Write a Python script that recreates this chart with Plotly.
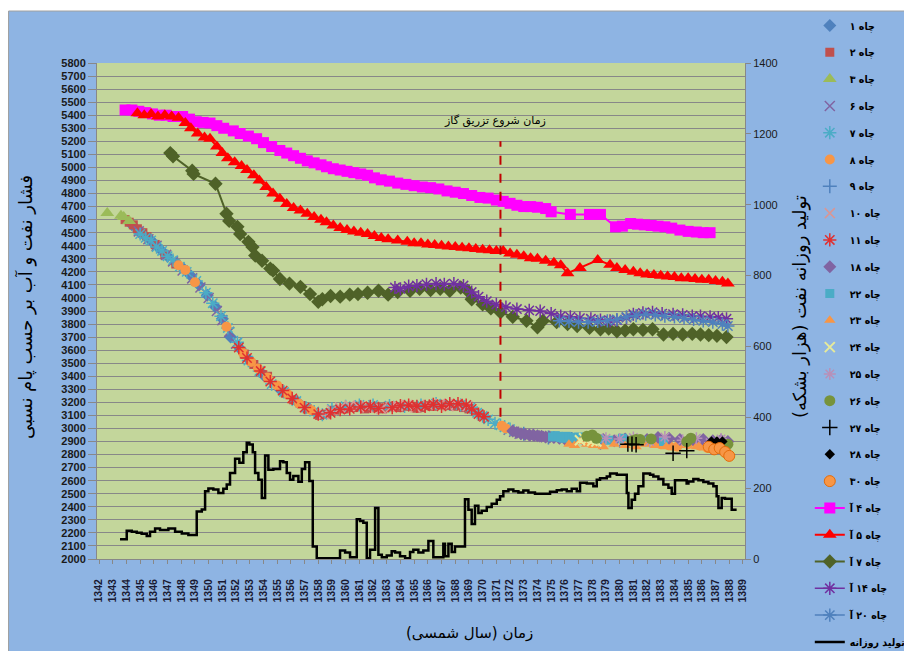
import plotly.graph_objects as go

# ---------------- DATA ----------------
years_tick = list(range(1342, 1390))
tick_labels = [str(y) for y in years_tick]

# Line wells (pressure, left axis)
w4a_x = [1343.9, 1344.4, 1344.9, 1345.4, 1345.9, 1346.4, 1346.9, 1347.4, 1348.1, 1348.6, 1349.1, 1349.6,
         1350.1, 1350.6, 1351.1, 1351.8, 1352.3, 1352.9, 1353.5, 1354.0, 1354.6, 1355.2, 1355.7, 1356.2,
         1356.7, 1357.2, 1357.7, 1358.2, 1358.6, 1359.1, 1359.6, 1360.1, 1360.6, 1361.1, 1361.6, 1362.1,
         1362.6, 1363.2, 1363.8, 1364.4, 1365.0, 1365.6, 1366.2, 1366.8, 1367.4, 1368.0, 1368.6, 1369.2,
         1369.8, 1370.4, 1371.0, 1371.5, 1372.0, 1372.5, 1373.0, 1373.5, 1374.0, 1374.6, 1375.0, 1376.4,
         1377.8, 1378.6, 1379.7, 1380.2, 1380.8, 1381.3, 1381.8, 1382.3, 1382.8, 1383.3, 1383.8, 1384.4,
         1385.0, 1385.6, 1386.1, 1386.6]
w4a_y = [5440, 5440, 5430, 5420, 5410, 5400, 5400, 5390, 5390, 5370, 5350, 5345,
         5340, 5320, 5300, 5280, 5260, 5240, 5220, 5190, 5160, 5130, 5110, 5090,
         5070, 5050, 5035, 5020, 5005, 4990, 4980, 4970, 4960, 4950, 4940, 4920,
         4905, 4895, 4880, 4870, 4860, 4850, 4845, 4835, 4820, 4810, 4800, 4785,
         4770, 4765, 4750, 4740, 4725, 4710, 4700, 4700, 4695, 4685, 4660, 4640,
         4640, 4640, 4545, 4550, 4570, 4565, 4560, 4555, 4550, 4545, 4535, 4520,
         4510, 4505, 4500, 4500]

w5a_x = [1344.8, 1345.3, 1345.8, 1346.3, 1346.8, 1347.3, 1347.8, 1348.3, 1348.7, 1349.2, 1349.7, 1350.1,
         1350.6, 1351.0, 1351.4, 1351.9, 1352.4, 1352.8, 1353.3, 1353.7, 1354.2, 1354.7, 1355.2, 1355.7,
         1356.2, 1356.7, 1357.2, 1357.7, 1358.2, 1358.6, 1359.1, 1359.6, 1360.1, 1360.6, 1361.1, 1361.6,
         1362.1, 1362.6, 1363.1, 1363.8, 1364.5, 1365.0, 1365.5, 1366.0, 1366.5, 1367.0, 1367.5, 1368.0,
         1368.5, 1369.0, 1369.5, 1370.0, 1370.5, 1371.0, 1371.5, 1372.0, 1372.5, 1373.0, 1373.5, 1374.0,
         1374.6, 1375.2, 1375.7, 1376.2, 1377.1, 1378.4, 1379.3, 1379.8, 1380.4, 1381.0, 1381.5, 1382.0,
         1382.5, 1383.0, 1383.5, 1384.0, 1384.5, 1385.0, 1385.5, 1386.0, 1386.5, 1387.0, 1387.5, 1387.9]
w5a_y = [5415, 5400, 5410, 5390, 5400, 5390, 5380, 5340, 5300, 5260, 5230, 5220,
         5160, 5110, 5070, 5040, 5010, 4980, 4940, 4900, 4850, 4800, 4760, 4720,
         4690, 4670, 4645, 4620, 4600, 4580, 4555, 4535, 4520, 4510, 4500, 4490,
         4475, 4460, 4450, 4440, 4430, 4420, 4420, 4410, 4405, 4400, 4395, 4390,
         4385, 4380, 4375, 4370, 4365, 4360, 4360, 4340, 4330, 4320, 4305, 4300,
         4285, 4270, 4250, 4190, 4230, 4290, 4255, 4230, 4215, 4200, 4190, 4180,
         4175, 4170, 4165, 4160, 4150, 4150, 4145, 4140, 4140, 4130, 4125, 4110]

w7a_x = [1347.2, 1347.4, 1348.8, 1348.9, 1350.5, 1351.3, 1351.5, 1352.1, 1352.3, 1352.9, 1353.2, 1353.4,
         1353.9, 1354.5, 1354.7, 1355.2, 1355.9, 1356.7, 1357.4, 1358.0, 1358.3, 1358.9, 1359.6, 1360.3,
         1360.9, 1361.6, 1362.4, 1363.1, 1363.8, 1364.7, 1365.4, 1366.2, 1366.9, 1367.6, 1368.4, 1368.9,
         1369.2, 1370.0, 1370.6, 1371.3, 1372.2, 1373.2, 1374.0, 1374.4, 1375.4, 1376.2, 1376.9, 1377.8,
         1378.6, 1379.2, 1379.8, 1380.4, 1381.0, 1381.7, 1382.4, 1383.2, 1383.9, 1384.6, 1385.3, 1385.9,
         1386.5, 1387.1, 1387.8]
w7a_y = [5110, 5085, 4975, 4950, 4875, 4645, 4590, 4545, 4490, 4430, 4390, 4325,
         4285, 4225, 4210, 4145, 4110, 4085, 4030, 3970, 3990, 4015, 4010, 4025,
         4030, 4040, 4055, 4025, 4045, 4055, 4070, 4060, 4070, 4055, 4080, 4055,
         3990, 3950, 3920, 3890, 3855, 3825, 3775, 3825, 3815, 3800, 3785, 3770,
         3760, 3765, 3745, 3750, 3760, 3755, 3760, 3720, 3725, 3720, 3725, 3720,
         3715, 3710, 3700]

w14a_x = [1363.6, 1364.0, 1364.6, 1365.2, 1365.9, 1366.6, 1367.2, 1367.9, 1368.6, 1369.2, 1369.7, 1370.3,
          1371.0, 1371.7, 1372.5, 1373.4, 1374.2, 1375.0, 1375.7, 1376.4, 1377.1, 1377.9, 1378.6, 1379.3,
          1379.8, 1380.5, 1381.0, 1381.7, 1382.4, 1383.1, 1383.9, 1384.6, 1385.3, 1385.9, 1386.6, 1387.2,
          1387.8]
w14a_y = [4080, 4070, 4090, 4095, 4105, 4110, 4105, 4110, 4095, 4045, 4010, 3975,
          3950, 3930, 3915, 3905, 3900, 3880, 3860, 3855, 3845, 3840, 3830, 3825,
          3830, 3850, 3875, 3885, 3890, 3880, 3875, 3870, 3860, 3860, 3855, 3850,
          3840]

w20a_x = [1375.6, 1376.3, 1377.0, 1377.7, 1378.4, 1379.1, 1379.8, 1380.5, 1381.2, 1381.9, 1382.6, 1383.3,
          1384.0, 1384.7, 1385.4, 1386.1, 1386.8, 1387.5, 1387.9]
w20a_y = [3825, 3820, 3815, 3815, 3820, 3825, 3835, 3855, 3865, 3875, 3870, 3860,
          3855, 3845, 3835, 3825, 3815, 3800, 3785]

# Scatter wells (pressure, left axis)
w1_x = [1344.4, 1344.9, 1345.3, 1345.7, 1346.0, 1346.5, 1347.0, 1347.6, 1348.2, 1348.7, 1349.3, 1349.9,
        1350.5, 1351.0, 1351.6, 1352.3, 1353.0, 1354.0, 1355.2, 1356.5]
w1_y = [4560, 4510, 4480, 4450, 4420, 4370, 4320, 4270, 4220, 4170, 4100, 4020,
        3930, 3840, 3700, 3610, 3520, 3410, 3300, 3200]
w2_x = [1343.9, 1344.2, 1344.5, 1344.8, 1345.2, 1345.5, 1346.1, 1346.8, 1347.6, 1352.6, 1353.3, 1354.3,
        1355.6, 1356.2, 1357.2, 1358.1, 1358.6, 1359.2, 1359.9, 1360.6, 1361.0, 1361.4, 1361.9, 1362.3,
        1362.7, 1363.1, 1363.6, 1364.0, 1364.4, 1364.8, 1365.2, 1365.5, 1365.9, 1366.3, 1366.7, 1367.1,
        1367.5, 1367.9, 1368.3, 1368.6, 1369.0]
w2_y = [4600, 4580, 4560, 4530, 4500, 4470, 4410, 4330, 4260, 3570, 3490, 3400,
        3270, 3220, 3150, 3100, 3110, 3140, 3150, 3160, 3170, 3150, 3160, 3160,
        3150, 3170, 3165, 3160, 3170, 3170, 3155, 3160, 3175, 3170, 3185, 3180,
        3175, 3170, 3180, 3160, 3150]
w3_x = [1342.6, 1343.6, 1343.8, 1344.2]
w3_y = [4650, 4630, 4620, 4590]
w6_x = [1344.9, 1345.6, 1346.2, 1346.9, 1347.4, 1348.1, 1348.8, 1349.4, 1350.0, 1350.6, 1351.0, 1351.5,
        1352.0, 1371.9, 1372.3, 1372.7, 1373.1, 1373.4, 1373.8, 1374.1, 1374.5, 1374.9]
w6_y = [4510, 4450, 4400, 4330, 4280, 4210, 4150, 4080, 4000, 3900, 3830, 3740,
        3650, 2990, 2975, 2960, 2955, 2950, 2945, 2940, 2935, 2930]
w7_x = [1345.0, 1345.4, 1345.8, 1346.2, 1346.6, 1347.0, 1347.4, 1347.9, 1348.4, 1349.1, 1349.8, 1350.3,
        1350.9, 1351.4, 1352.1, 1352.9, 1353.7, 1354.6, 1355.5, 1356.4, 1357.1, 1357.7, 1358.3, 1359.0,
        1360.0, 1361.0, 1362.0, 1363.2, 1364.3, 1365.5, 1366.6, 1367.6, 1368.4, 1369.1, 1369.6, 1370.0,
        1370.4, 1370.9, 1371.3, 1371.6, 1372.0]
w7_y = [4490, 4460, 4440, 4390, 4360, 4320, 4290, 4240, 4200, 4130, 4040, 3960,
        3860, 3770, 3660, 3520, 3440, 3340, 3280, 3210, 3160, 3130, 3105, 3150,
        3170, 3180, 3180, 3175, 3170, 3180, 3190, 3185, 3180, 3160, 3120, 3095,
        3070, 3040, 3025, 3010, 2995]
w8_x = [1347.8, 1348.3, 1349.0, 1351.3, 1352.5, 1353.1, 1353.6, 1354.3, 1355.0, 1355.8, 1356.6, 1357.5,
        1371.4, 1371.7, 1383.0, 1383.6, 1384.2, 1385.0, 1385.8, 1386.4, 1387.1]
w8_y = [4250, 4215, 4120, 3780, 3580, 3510, 3460, 3390, 3330, 3260, 3190, 3140,
        3020, 3000, 2880, 2870, 2860, 2880, 2870, 2850, 2870]
w9_x = [1373.0, 1374.8, 1376.5, 1378.6, 1380.0]
w9_y = [2960, 2930, 2920, 2890, 2905]
w10_x = [1358.4, 1359.0, 1359.6, 1360.3, 1360.9, 1361.6, 1362.6, 1363.3, 1363.8, 1364.5, 1365.1, 1366.0,
         1366.9, 1367.5, 1368.1, 1368.9]
w10_y = [3110, 3140, 3160, 3175, 3170, 3160, 3150, 3165, 3170, 3180, 3160, 3180,
         3190, 3170, 3185, 3170]
w11_x = [1352.2, 1352.8, 1353.8, 1354.5, 1355.4, 1356.1, 1357.0, 1358.0, 1358.9, 1359.6, 1360.3, 1361.1,
         1361.8, 1362.4, 1363.4, 1364.0, 1364.6, 1365.2, 1365.8, 1366.4, 1367.0, 1367.6, 1368.2, 1368.8,
         1369.2, 1369.7, 1370.1]
w11_y = [3620, 3540, 3440, 3360, 3290, 3230, 3160, 3110, 3120, 3145, 3150, 3165,
         3170, 3155, 3160, 3175, 3180, 3170, 3170, 3185, 3170, 3190, 3190, 3180,
         3150, 3110, 3090]
w18_x = [1372.2, 1372.5, 1372.8, 1373.1, 1373.4, 1373.7, 1374.0, 1374.3, 1374.6, 1374.9, 1375.2, 1375.6,
         1376.0, 1376.7, 1377.4, 1378.1, 1378.8, 1379.6, 1380.4, 1381.2, 1382.0, 1382.8, 1383.6, 1384.4,
         1385.4, 1386.1, 1386.8, 1387.4, 1387.9]
w18_y = [2980, 2970, 2960, 2955, 2950, 2950, 2945, 2940, 2935, 2935, 2930, 2925,
         2920, 2915, 2910, 2925, 2915, 2905, 2920, 2910, 2915, 2930, 2925, 2915,
         2910, 2915, 2905, 2910, 2900]
w22_x = [1375.1, 1375.3, 1375.5, 1375.7, 1375.9, 1376.1, 1376.3, 1376.5, 1376.7, 1377.0, 1378.5, 1379.2,
         1380.2, 1381.8, 1383.2]
w22_y = [2935, 2945, 2940, 2930, 2925, 2940, 2935, 2925, 2930, 2935, 2920, 2910,
         2925, 2905, 2900]
w23_x = [1376.3, 1376.7, 1377.1, 1377.6, 1378.1, 1378.8, 1379.6, 1380.4, 1381.2, 1381.9, 1382.6, 1383.4,
         1384.1, 1384.8, 1385.6, 1386.2]
w23_y = [2880, 2870, 2900, 2880, 2870, 2860, 2880, 2870, 2860, 2880, 2870, 2860,
         2850, 2870, 2860, 2850]
w24_x = [1377.1, 1377.4, 1377.7, 1378.0, 1378.3]
w24_y = [2910, 2925, 2920, 2905, 2900]
w25_x = [1379.0, 1380.0, 1381.0, 1382.2, 1383.3, 1384.6, 1385.6, 1386.6, 1387.4]
w25_y = [2925, 2920, 2930, 2900, 2935, 2910, 2925, 2890, 2920]
w26_x = [1377.6, 1378.0, 1378.3, 1380.9, 1381.2, 1381.5, 1382.3, 1384.9, 1385.2, 1387.9]
w26_y = [2940, 2950, 2925, 2905, 2915, 2915, 2920, 2900, 2925, 2880]
w27_x = [1380.6, 1380.9, 1381.2, 1383.9, 1384.9]
w27_y = [2880, 2880, 2875, 2810, 2830]
w28_x = [1386.7, 1387.1, 1387.5]
w28_y = [2900, 2900, 2900]
w30_x = [1386.5, 1386.9, 1387.3, 1387.7, 1388.0]
w30_y = [2860, 2840, 2850, 2820, 2790]

# Daily production (thousand barrels, right axis) - step series
prod_x = [1343.53, 1344.02, 1344.39, 1344.75, 1345.11, 1345.48, 1345.72, 1346.09, 1346.45, 1347.06, 1347.55,
          1348.04, 1348.52, 1349.13, 1349.50, 1349.74, 1349.98, 1350.34, 1350.71, 1351.07, 1351.32, 1351.56,
          1351.93, 1352.24, 1352.53, 1352.78, 1352.97, 1353.22, 1353.39, 1353.63, 1353.88, 1354.12, 1354.36,
          1354.72, 1355.21, 1355.45, 1355.70, 1355.94, 1356.18, 1356.55, 1356.80, 1357.04, 1357.35, 1357.60,
          1357.89, 1359.59, 1359.96, 1360.32, 1360.81, 1361.05, 1361.29, 1361.54, 1361.78, 1362.15, 1362.39,
          1362.64, 1363.00, 1363.36, 1363.61, 1363.97, 1364.34, 1364.70, 1364.94, 1365.31, 1365.67, 1366.04,
          1366.40, 1367.13, 1367.25, 1367.50, 1367.74, 1367.98, 1368.71, 1368.96, 1369.20, 1369.44, 1369.69,
          1369.93, 1370.30, 1370.66, 1371.03, 1371.27, 1371.51, 1371.88, 1372.24, 1372.61, 1372.97, 1373.34,
          1373.82, 1374.92, 1375.41, 1375.77, 1376.14, 1376.50, 1376.87, 1377.11, 1377.60, 1378.08, 1378.33,
          1378.57, 1379.06, 1379.30, 1379.79, 1380.52, 1380.64, 1380.88, 1381.12, 1381.37, 1381.73, 1382.22,
          1382.46, 1382.83, 1383.19, 1383.56, 1383.80, 1384.04, 1384.89, 1385.02, 1385.38, 1385.75, 1386.11,
          1386.48, 1386.84, 1387.08, 1387.21, 1387.45, 1387.69, 1388.18, 1388.54]
prod_y = [56, 80, 77, 74, 71, 65, 77, 86, 82, 86, 77,
          72, 68, 134, 140, 191, 199, 196, 186, 198, 210, 243,
          283, 272, 301, 328, 323, 301, 243, 224, 172, 292, 252,
          254, 276, 273, 243, 224, 234, 218, 254, 273, 220, 35,
          2, 24, 18, 5, 112, 107, 102, 2, 26, 144, 12,
          5, 10, 22, 18, 8, 2, 20, 26, 18, 24, 51,
          5, 43, 8, 43, 20, 35, 169, 139, 99, 150, 130,
          136, 147, 156, 167, 177, 191, 196, 191, 188, 193, 188,
          184, 190, 194, 196, 191, 198, 191, 215, 213, 205, 224,
          228, 233, 241, 238, 186, 144, 167, 184, 205, 241, 238,
          233, 226, 210, 201, 184, 222, 213, 219, 226, 222, 217,
          213, 205, 177, 144, 172, 170, 139, 139]

# Labels
scatter_names = ["چاه ۱", "چاه ۲", "چاه ۳", "چاه ۶", "چاه ۷", "چاه ۸", "چاه ۹", "چاه ۱۰", "چاه ۱۱",
                 "چاه ۱۸", "چاه ۲۲", "چاه ۲۳", "چاه ۲۴", "چاه ۲۵", "چاه ۲۶", "چاه ۲۷", "چاه ۲۸", "چاه ۳۰"]
line_names = ["چاه ۴ آ", "چاه ۵ آ", "چاه ۷ آ", "چاه ۱۴ آ", "چاه ۲۰ آ"]
prod_name = "تولید روزانه"
title_left = "فشار نفت و آب بر حسب پام نسبی"
title_right = "تولید روزانه نفت (هزار بشکه)"
title_x = "زمان (سال شمسی)"
gas_label = "زمان شروع تزریق گاز"
gas_year = 1371.3
gas_range = [3090, 5200]

# ---------------- STYLE ----------------
FONT = "DejaVu Sans"
scatter_data = [(w1_x, w1_y), (w2_x, w2_y), (w3_x, w3_y), (w6_x, w6_y), (w7_x, w7_y), (w8_x, w8_y),
                (w9_x, w9_y), (w10_x, w10_y), (w11_x, w11_y), (w18_x, w18_y), (w22_x, w22_y),
                (w23_x, w23_y), (w24_x, w24_y), (w25_x, w25_y), (w26_x, w26_y), (w27_x, w27_y),
                (w28_x, w28_y), (w30_x, w30_y)]
scatter_styles = [
    dict(symbol="diamond", color="#4F81BD", size=10),
    dict(symbol="square", color="#C0504D", size=9),
    dict(symbol="triangle-up", color="#9BBB59", size=12),
    dict(symbol="x-thin-open", color="#8064A2", size=10, line=dict(color="#9A8AB8", width=1.5)),
    dict(symbol="asterisk-open", color="#4BACC6", size=11, line=dict(color="#4BACC6", width=1.5)),
    dict(symbol="circle", color="#F79646", size=10),
    dict(symbol="cross-thin-open", color="#4F81BD", size=10, line=dict(color="#4F81BD", width=1.5)),
    dict(symbol="x-thin-open", color="#D99694", size=10, line=dict(color="#D99694", width=1.5)),
    dict(symbol="asterisk-open", color="#E03030", size=11, line=dict(color="#E03030", width=1.5)),
    dict(symbol="diamond", color="#8064A2", size=10),
    dict(symbol="square", color="#4BACC6", size=9),
    dict(symbol="triangle-up", color="#F79646", size=10),
    dict(symbol="x-thin-open", color="#E6EA9A", size=10, line=dict(color="#E6EA9A", width=2)),
    dict(symbol="asterisk-open", color="#B890B8", size=10, line=dict(color="#B890B8", width=1.5)),
    dict(symbol="circle", color="#77933C", size=11),
    dict(symbol="cross-thin-open", color="black", size=11, line=dict(color="black", width=1.5)),
    dict(symbol="diamond", color="black", size=8),
    dict(symbol="circle", color="#F79646", size=11, line=dict(color="#E46C0A", width=1)),
]
line_data = [(w4a_x, w4a_y), (w5a_x, w5a_y), (w7a_x, w7a_y), (w14a_x, w14a_y), (w20a_x, w20a_y)]
line_styles = [
    dict(color="#FF00FF", marker=dict(symbol="square", size=11, color="#FF00FF"), width=2),
    dict(color="#FF0000", marker=dict(symbol="triangle-up", size=12, color="#FF0000"), width=2),
    dict(color="#4F6228", marker=dict(symbol="diamond", size=11, color="#4F6228"), width=2),
    dict(color="#7030A0", marker=dict(symbol="asterisk-open", size=11, color="#7030A0",
                                      line=dict(color="#9966CC", width=1.5)), width=1.5),
    dict(color="#4F81BD", marker=dict(symbol="asterisk-open", size=11, color="#4F81BD",
                                      line=dict(color="#6F9AD0", width=1.5)), width=1.5),
]

fig = go.Figure()
for i, ((xs, ys), st, nm) in enumerate(zip(scatter_data, scatter_styles, scatter_names)):
    fig.add_trace(go.Scatter(x=xs, y=ys, mode="markers", name=nm, marker=st,
                             legendgroup="g%d" % i))
for j, ((xs, ys), st, nm) in enumerate(zip(line_data, line_styles, line_names)):
    fig.add_trace(go.Scatter(x=xs, y=ys, mode="lines+markers", name=nm,
                             line=dict(color=st["color"], width=st["width"]), marker=st["marker"],
                             legendgroup="l%d" % j))
fig.add_trace(go.Scatter(x=prod_x, y=prod_y, mode="lines", name=prod_name, yaxis="y2",
                         line=dict(color="black", width=2.5, shape="hv"), legendgroup="p"))

GRID = "#888888"
# The page body has an 8px margin, so the figure is sized 904x643 and shifted accordingly.
fig.update_layout(
    width=904, height=643,
    margin=dict(l=89, r=167, t=55, b=92, autoexpand=False),
    paper_bgcolor="#8EB4E3", plot_bgcolor="#C3D69B",
    showlegend=True,
    xaxis=dict(range=[1341.85, 1389.15], tickmode="array", tickvals=years_tick, ticktext=tick_labels,
               tickangle=-90, tickfont=dict(family="Liberation Sans", size=10.5, color="#1a1a33", weight="bold"),
               ticks="outside", ticklen=4, tickcolor=GRID, showline=True, linecolor=GRID,
               showgrid=False, zeroline=False, ticklabelstandoff=11),
    yaxis=dict(range=[2000, 5800], dtick=100, tickfont=dict(family="Liberation Sans", size=11,
               color="#1a1a1a", weight="bold"), ticks="outside", ticklen=8, tickcolor=GRID,
               showgrid=True, gridcolor=GRID, gridwidth=1, showline=True, linecolor=GRID, zeroline=False),
    yaxis2=dict(overlaying="y", side="right", range=[0, 1400], dtick=200, showgrid=False,
                tickfont=dict(family="Liberation Sans", size=11, color="#1a1a1a"),
                ticks="outside", ticklen=5, tickcolor=GRID, showline=True, linecolor=GRID, zeroline=False),
    legend=dict(x=1.1, xanchor="left", y=1.1048, yanchor="top", bgcolor="rgba(0,0,0,0)",
                font=dict(family="DejaVu Sans Condensed, DejaVu Sans", size=10.5, color="black",
                          weight="bold"),
                tracegroupgap=7.8, traceorder="grouped", maxheight=700),
    annotations=[
        dict(text=title_left, xref="paper", yref="paper", x=-0.111, y=0.508, textangle=-90,
             showarrow=False, xanchor="center", yanchor="middle",
             font=dict(family=FONT, size=18, color="black")),
        dict(text=title_right, xref="paper", yref="paper", x=1.085, y=0.508, textangle=-90,
             showarrow=False, xanchor="center", yanchor="middle",
             font=dict(family=FONT, size=18, color="black")),
        dict(text=title_x, xref="paper", yref="paper", x=0.5756, y=-0.149,
             showarrow=False, xanchor="center", yanchor="middle",
             font=dict(family=FONT, size=15, color="black")),
        dict(text=gas_label, xref="x", yref="y", x=1370.9, y=5354, showarrow=False,
             xanchor="center", yanchor="middle", font=dict(family=FONT, size=11, color="black")),
    ],
    shapes=[
        dict(type="line", xref="x", yref="y", x0=gas_year, x1=gas_year, y0=gas_range[0], y1=gas_range[1],
             line=dict(color="#C00000", width=2, dash="dash")),
        dict(type="rect", xref="paper", yref="paper", x0=-0.14, x1=1.27, y0=1.1048, y1=1.12,
             fillcolor="white", line=dict(width=0), layer="above"),
        dict(type="line", xref="paper", yref="paper", x0=-0.1365, x1=-0.1365, y0=-0.2, y1=1.1048,
             line=dict(color="#A0A0A0", width=1), layer="above"),
        dict(type="line", xref="paper", yref="paper", x0=-0.1365, x1=1.27, y0=1.1048, y1=1.1048,
             line=dict(color="#A0A0A0", width=1), layer="above"),
    ],
)

fig.write_html("out.html")
